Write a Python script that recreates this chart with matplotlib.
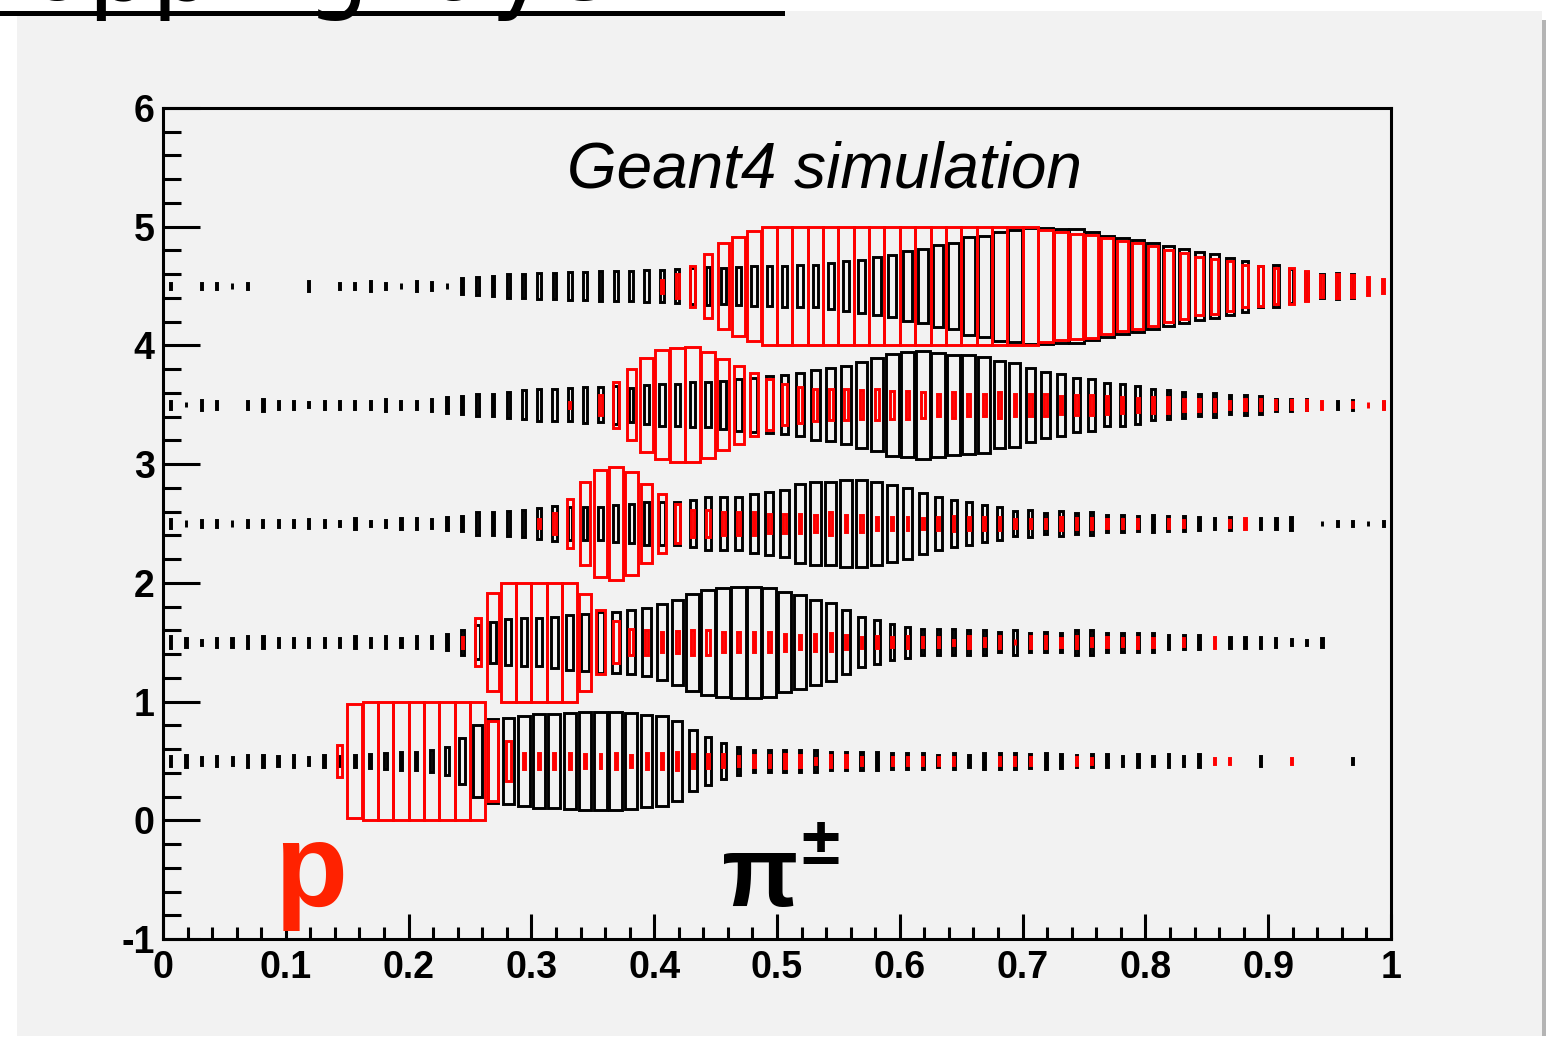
import numpy as np
import matplotlib
matplotlib.use("Agg")
import matplotlib.pyplot as plt
from matplotlib.patches import Rectangle
from matplotlib.lines import Line2D

W, H = 1555, 1039
plt.rcParams["font.family"] = ["Liberation Sans", "DejaVu Sans"]

# 80 x-bins on [0, 1], 5 y-rows (0.5 ... 4.5); contents on a 0-1000 scale
NBINS = 80
ROW_CENTERS = [0.5, 1.5, 2.5, 3.5, 4.5]
BOX_MAX = 1000.0

# pi+- (black boxes), one list per y-row
pion_y05 = [6, 10, 4, 8, 4, 10, 10, 8, 10, 4,
            10, 7, 10, 15, 20, 22, 25, 33, 54, 151,
            364, 505, 529, 578, 616, 616, 643, 683, 683, 683,
            643, 604, 566, 459, 263, 164, 89, 54, 33, 36,
            33, 33, 33, 25, 25, 25, 25, 17, 17, 17,
            10, 17, 10, 17, 17, 17, 13, 17, 13, 10,
            12, 12, 7, 12, 6, 12, 7, 12, 0, 0,
            0, 6, 0, 0, 0, 0, 0, 3, 0, 0]
pion_y15 = [10, 6, 2, 6, 6, 10, 10, 6, 6, 6,
            6, 6, 10, 6, 10, 6, 10, 10, 17, 43,
            84, 120, 151, 164, 164, 185, 214, 230, 263, 263,
            289, 325, 416, 517, 669, 782, 842, 872, 872, 842,
            711, 629, 517, 426, 289, 178, 138, 94, 70, 46,
            46, 46, 43, 43, 27, 43, 25, 27, 25, 43,
            43, 25, 25, 25, 25, 13, 13, 13, 0, 8,
            8, 8, 6, 3, 2, 6, 0, 0, 0, 0]
pion_y25 = [6, 3, 3, 3, 3, 3, 3, 3, 3, 6,
            3, 2, 10, 2, 3, 10, 10, 7, 13, 17,
            36, 36, 46, 50, 70, 84, 74, 79, 79, 94,
            109, 126, 126, 132, 157, 199, 199, 199, 246, 289,
            316, 437, 482, 494, 529, 529, 494, 426, 364, 271,
            199, 151, 132, 94, 74, 46, 54, 30, 43, 30,
            36, 22, 22, 17, 22, 17, 17, 12, 8, 12,
            0, 8, 8, 12, 0, 2, 2, 2, 2, 2]
pion_y35 = [4, 2, 7, 4, 0, 4, 10, 4, 4, 2,
            4, 4, 4, 4, 10, 4, 4, 10, 17, 22,
            33, 36, 46, 61, 74, 74, 79, 94, 89, 104,
            84, 109, 126, 126, 145, 145, 164, 192, 207, 230,
            246, 280, 344, 374, 437, 529, 616, 739, 782, 826,
            767, 711, 697, 656, 541, 505, 384, 307, 271, 207,
            192, 132, 126, 104, 70, 61, 46, 36, 39, 25,
            30, 22, 10, 10, 8, 0, 4, 7, 0, 3]
pion_y45 = [3, 0, 3, 3, 3, 3, 0, 0, 0, 6,
            0, 3, 3, 6, 3, 2, 6, 4, 2, 17,
            25, 30, 39, 39, 50, 50, 54, 57, 66, 66,
            61, 70, 74, 84, 94, 99, 94, 99, 115, 109,
            120, 126, 126, 151, 178, 199, 238, 280, 354, 394,
            471, 529, 683, 725, 842, 888, 951, 967, 935, 935,
            826, 725, 656, 591, 529, 448, 384, 325, 289, 230,
            185, 120, 126, 84, 54, 43, 46, 39, 0, 0]

# protons (red boxes)
proton_y05 = [0, 0, 0, 0, 0, 0, 0, 0, 0, 0,
              0, 70, 935, 1000, 1000, 1000, 1000, 1000, 1000, 1000,
              1000, 459, 109, 20, 20, 17, 17, 15, 15, 17,
              10, 17, 17, 25, 15, 15, 12, 7, 10, 10,
              13, 10, 2, 10, 10, 4, 0, 4, 4, 4,
              4, 4, 0, 0, 4, 4, 4, 0, 0, 4,
              3, 0, 0, 0, 0, 0, 0, 0, 3, 3,
              0, 0, 0, 3, 0, 0, 0, 0, 0, 0]
proton_y15 = [0, 0, 0, 0, 0, 0, 0, 0, 0, 0,
              0, 0, 0, 0, 0, 0, 0, 0, 0, 8,
              164, 683, 1000, 1000, 1000, 1000, 1000, 669, 289, 126,
              50, 43, 27, 36, 43, 43, 27, 27, 27, 27,
              20, 13, 20, 22, 13, 8, 10, 7, 10, 7,
              7, 2, 10, 4, 10, 3, 10, 10, 6, 10,
              4, 7, 4, 8, 6, 0, 4, 0, 8, 0,
              0, 0, 0, 0, 0, 0, 0, 0, 0, 0]
proton_y25 = [0, 0, 0, 0, 0, 0, 0, 0, 0, 0,
              0, 0, 0, 0, 0, 0, 0, 0, 0, 0,
              0, 0, 0, 0, 6, 33, 164, 482, 811, 903,
              739, 437, 246, 109, 50, 50, 36, 36, 36, 25,
              25, 25, 22, 36, 22, 22, 13, 13, 12, 8,
              12, 15, 12, 12, 12, 6, 7, 7, 12, 10,
              8, 6, 6, 6, 0, 6, 4, 0, 0, 4,
              8, 0, 0, 0, 0, 0, 0, 0, 0, 0]
proton_y35 = [0, 0, 0, 0, 0, 0, 0, 0, 0, 0,
              0, 0, 0, 0, 0, 0, 0, 0, 0, 0,
              0, 0, 0, 0, 0, 0, 3, 0, 30, 151,
              354, 629, 842, 919, 935, 797, 591, 437, 280, 185,
              120, 94, 74, 70, 70, 61, 70, 54, 54, 50,
              36, 50, 36, 36, 50, 33, 33, 33, 22, 30,
              30, 22, 17, 13, 17, 17, 10, 10, 10, 4,
              8, 8, 6, 6, 7, 4, 0, 2, 3, 4]
proton_y45 = [0, 0, 0, 0, 0, 0, 0, 0, 0, 0,
              0, 0, 0, 0, 0, 0, 0, 0, 0, 0,
              0, 0, 0, 0, 0, 0, 0, 0, 0, 0,
              0, 0, 12, 43, 120, 298, 517, 697, 872, 1000,
              1000, 1000, 1000, 1000, 1000, 1000, 1000, 1000, 1000, 1000,
              1000, 1000, 1000, 1000, 1000, 1000, 1000, 903, 826, 782,
              753, 643, 578, 517, 459, 374, 307, 238, 214, 178,
              126, 115, 89, 94, 61, 36, 43, 33, 25, 13]

pion_rows = [pion_y05, pion_y15, pion_y25, pion_y35, pion_y45]
proton_rows = [proton_y05, proton_y15, proton_y25, proton_y35, proton_y45]

x_ticks = [0, 0.1, 0.2, 0.3, 0.4, 0.5, 0.6, 0.7, 0.8, 0.9, 1]
x_tick_labels = ["0", "0.1", "0.2", "0.3", "0.4", "0.5", "0.6", "0.7", "0.8", "0.9", "1"]
y_ticks = [-1, 0, 1, 2, 3, 4, 5, 6]
y_tick_labels = ["-1", "0", "1", "2", "3", "4", "5", "6"]


def fx(px):
    return px / W


def fy(py):
    return 1 - py / H


def draw_boxes(ax, rows, color):
    """ROOT 'BOX' style: box side scales with sqrt(content / max)."""
    bw = 1.0 / NBINS
    xc = (np.arange(NBINS) + 0.5) * bw
    for yc, row in zip(ROW_CENTERS, rows):
        c = np.asarray(row, float)
        keep = c > 0
        f = np.sqrt(np.clip(c[keep] / BOX_MAX, 0, 1))
        ax.bar(xc[keep], f, width=f * bw, bottom=yc - f / 2, align="center",
               fill=False, edgecolor=color, linewidth=2.1, joinstyle="miter")


fig = plt.figure(figsize=(W / 100, H / 100), dpi=100, facecolor="white")

# grey slide panel + shadow (behind everything)
fig.patches.append(Rectangle((fx(17), fy(1036)), fx(1542 - 17), (1036 - 11) / H,
                             transform=fig.transFigure, facecolor="#f2f2f2",
                             edgecolor="none", zorder=-10))
fig.patches.append(Rectangle((fx(1542), fy(1036)), fx(4), (1036 - 20) / H,
                             transform=fig.transFigure, facecolor="#b4b4b4",
                             edgecolor="none", zorder=-10))

# slide title, mostly cut off at the top
fig.text(fx(-76), fy(0), "Stopping layer 12", fontsize=72, family="DejaVu Sans",
         ha="left", va="baseline", color="black")
fig.lines.append(Line2D([0, fx(782)], [fy(13), fy(13)], transform=fig.transFigure,
                        color="black", linewidth=3.6))

ax = fig.add_axes([fx(163), fy(939), fx(1391 - 163), (939 - 108) / H])
ax.set_facecolor("#f2f2f2")

draw_boxes(ax, pion_rows, "black")
draw_boxes(ax, proton_rows, "#ff0000")

ax.set_xlim(0, 1)
ax.set_ylim(-1, 6)
ax.set_xticks(x_ticks)
ax.set_xticklabels(x_tick_labels)
ax.set_yticks(y_ticks)
ax.set_yticklabels(y_tick_labels)
ax.set_xticks(np.arange(0, 1.001, 0.02), minor=True)
ax.set_yticks(np.arange(-1, 6.001, 0.2), minor=True)
ax.tick_params(which="both", direction="in", top=False, right=False,
               width=2.2, color="black")
ax.tick_params(axis="y", which="major", length=26.5, pad=6)
ax.tick_params(axis="y", which="minor", length=13)
ax.tick_params(axis="x", which="major", length=18, pad=8)
ax.tick_params(axis="x", which="minor", length=9)
for lab in ax.get_xticklabels() + ax.get_yticklabels():
    lab.set_fontsize(27)
    lab.set_fontweight("bold")
for s in ax.spines.values():
    s.set_linewidth(2.2)
    s.set_color("black")

fig.text(fx(824), fy(188), "Geant4 simulation", fontsize=46, style="italic",
         ha="center", va="baseline", color="black")
fig.text(fx(274), fy(906), "p", fontsize=86, fontweight="bold",
         ha="left", va="baseline", color="#ff2200")
fig.text(fx(722), fy(906), "\u03c0", fontsize=72, fontweight="bold",
         ha="left", va="baseline", color="black")
fig.text(fx(801), fy(864), "\u00b1", fontsize=50, fontweight="bold",
         ha="left", va="baseline", color="black")

fig.savefig("out.png", dpi=100, facecolor="white")
